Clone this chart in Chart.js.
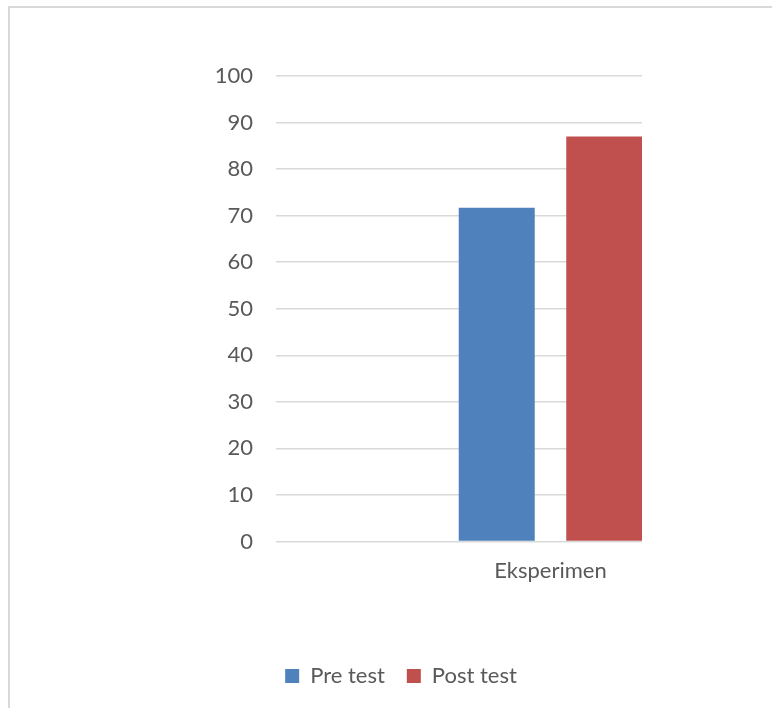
<!DOCTYPE html>
<html>
<head>
<meta charset="utf-8">
<script src="https://cdn.jsdelivr.net/npm/chart.js@4/dist/chart.umd.min.js"></script>
<style>
  html, body { margin: 0; padding: 0; background: #fff; overflow: hidden; }
  #frame { position: absolute; left: 8px; top: 6px; width: 900px; height: 900px; border: 2px solid #d9d9d9; box-sizing: border-box; }
  #wrap { position: absolute; left: 0; top: 0; width: 772px; height: 708px; }
</style>
</head>
<body>
<div id="frame"></div>
<div id="wrap"><canvas id="chart"></canvas></div>
<script>
// Mean scores per group
const categories = ["", "Eksperimen"];
const preTest = [null, 71.7];
const postTest = [null, 87.0];
const seriesNames = ["Pre test", "Post test"];
const yTicks = [0, 10, 20, 30, 40, 50, 60, 70, 80, 90, 100];

const textColor = "#595959";
const fontFamily = "Lato, 'Open Sans', sans-serif";

new Chart(document.getElementById("chart"), {
  type: "bar",
  data: {
    labels: categories,
    datasets: [
      { label: seriesNames[0], data: preTest, backgroundColor: "#4F81BD" },
      { label: seriesNames[1], data: postTest, backgroundColor: "#C0504D" }
    ]
  },
  options: {
    responsive: true,
    maintainAspectRatio: false,
    animation: false,
    categoryPercentage: 1.175,
    barPercentage: 0.707,
    layout: { padding: { left: 160, right: 130, top: 76, bottom: 11 } },
    plugins: {
      tooltip: { enabled: false },
      legend: {
        position: "bottom",
        labels: {
          boxWidth: 14,
          boxHeight: 14,
          padding: 22,
          color: textColor,
          font: { family: fontFamily, size: 22 }
        }
      }
    },
    scales: {
      x: {
        grid: { display: false },
        border: { display: false },
        ticks: { color: textColor, padding: 8, font: { family: fontFamily, size: 22 } },
        afterFit: (s) => { s.height = 101.5; }
      },
      y: {
        min: yTicks[0],
        max: yTicks[yTicks.length - 1],
        afterBuildTicks: (s) => { s.ticks = yTicks.map(v => ({ value: v })); },
        grid: { color: "#d9d9d9", lineWidth: 1.5, drawTicks: false },
        border: { display: false },
        ticks: { color: textColor, padding: 23, font: { family: fontFamily, size: 22 } },
        afterFit: (s) => { s.width = 116; }
      }
    }
  }
});
</script>
</body>
</html>
